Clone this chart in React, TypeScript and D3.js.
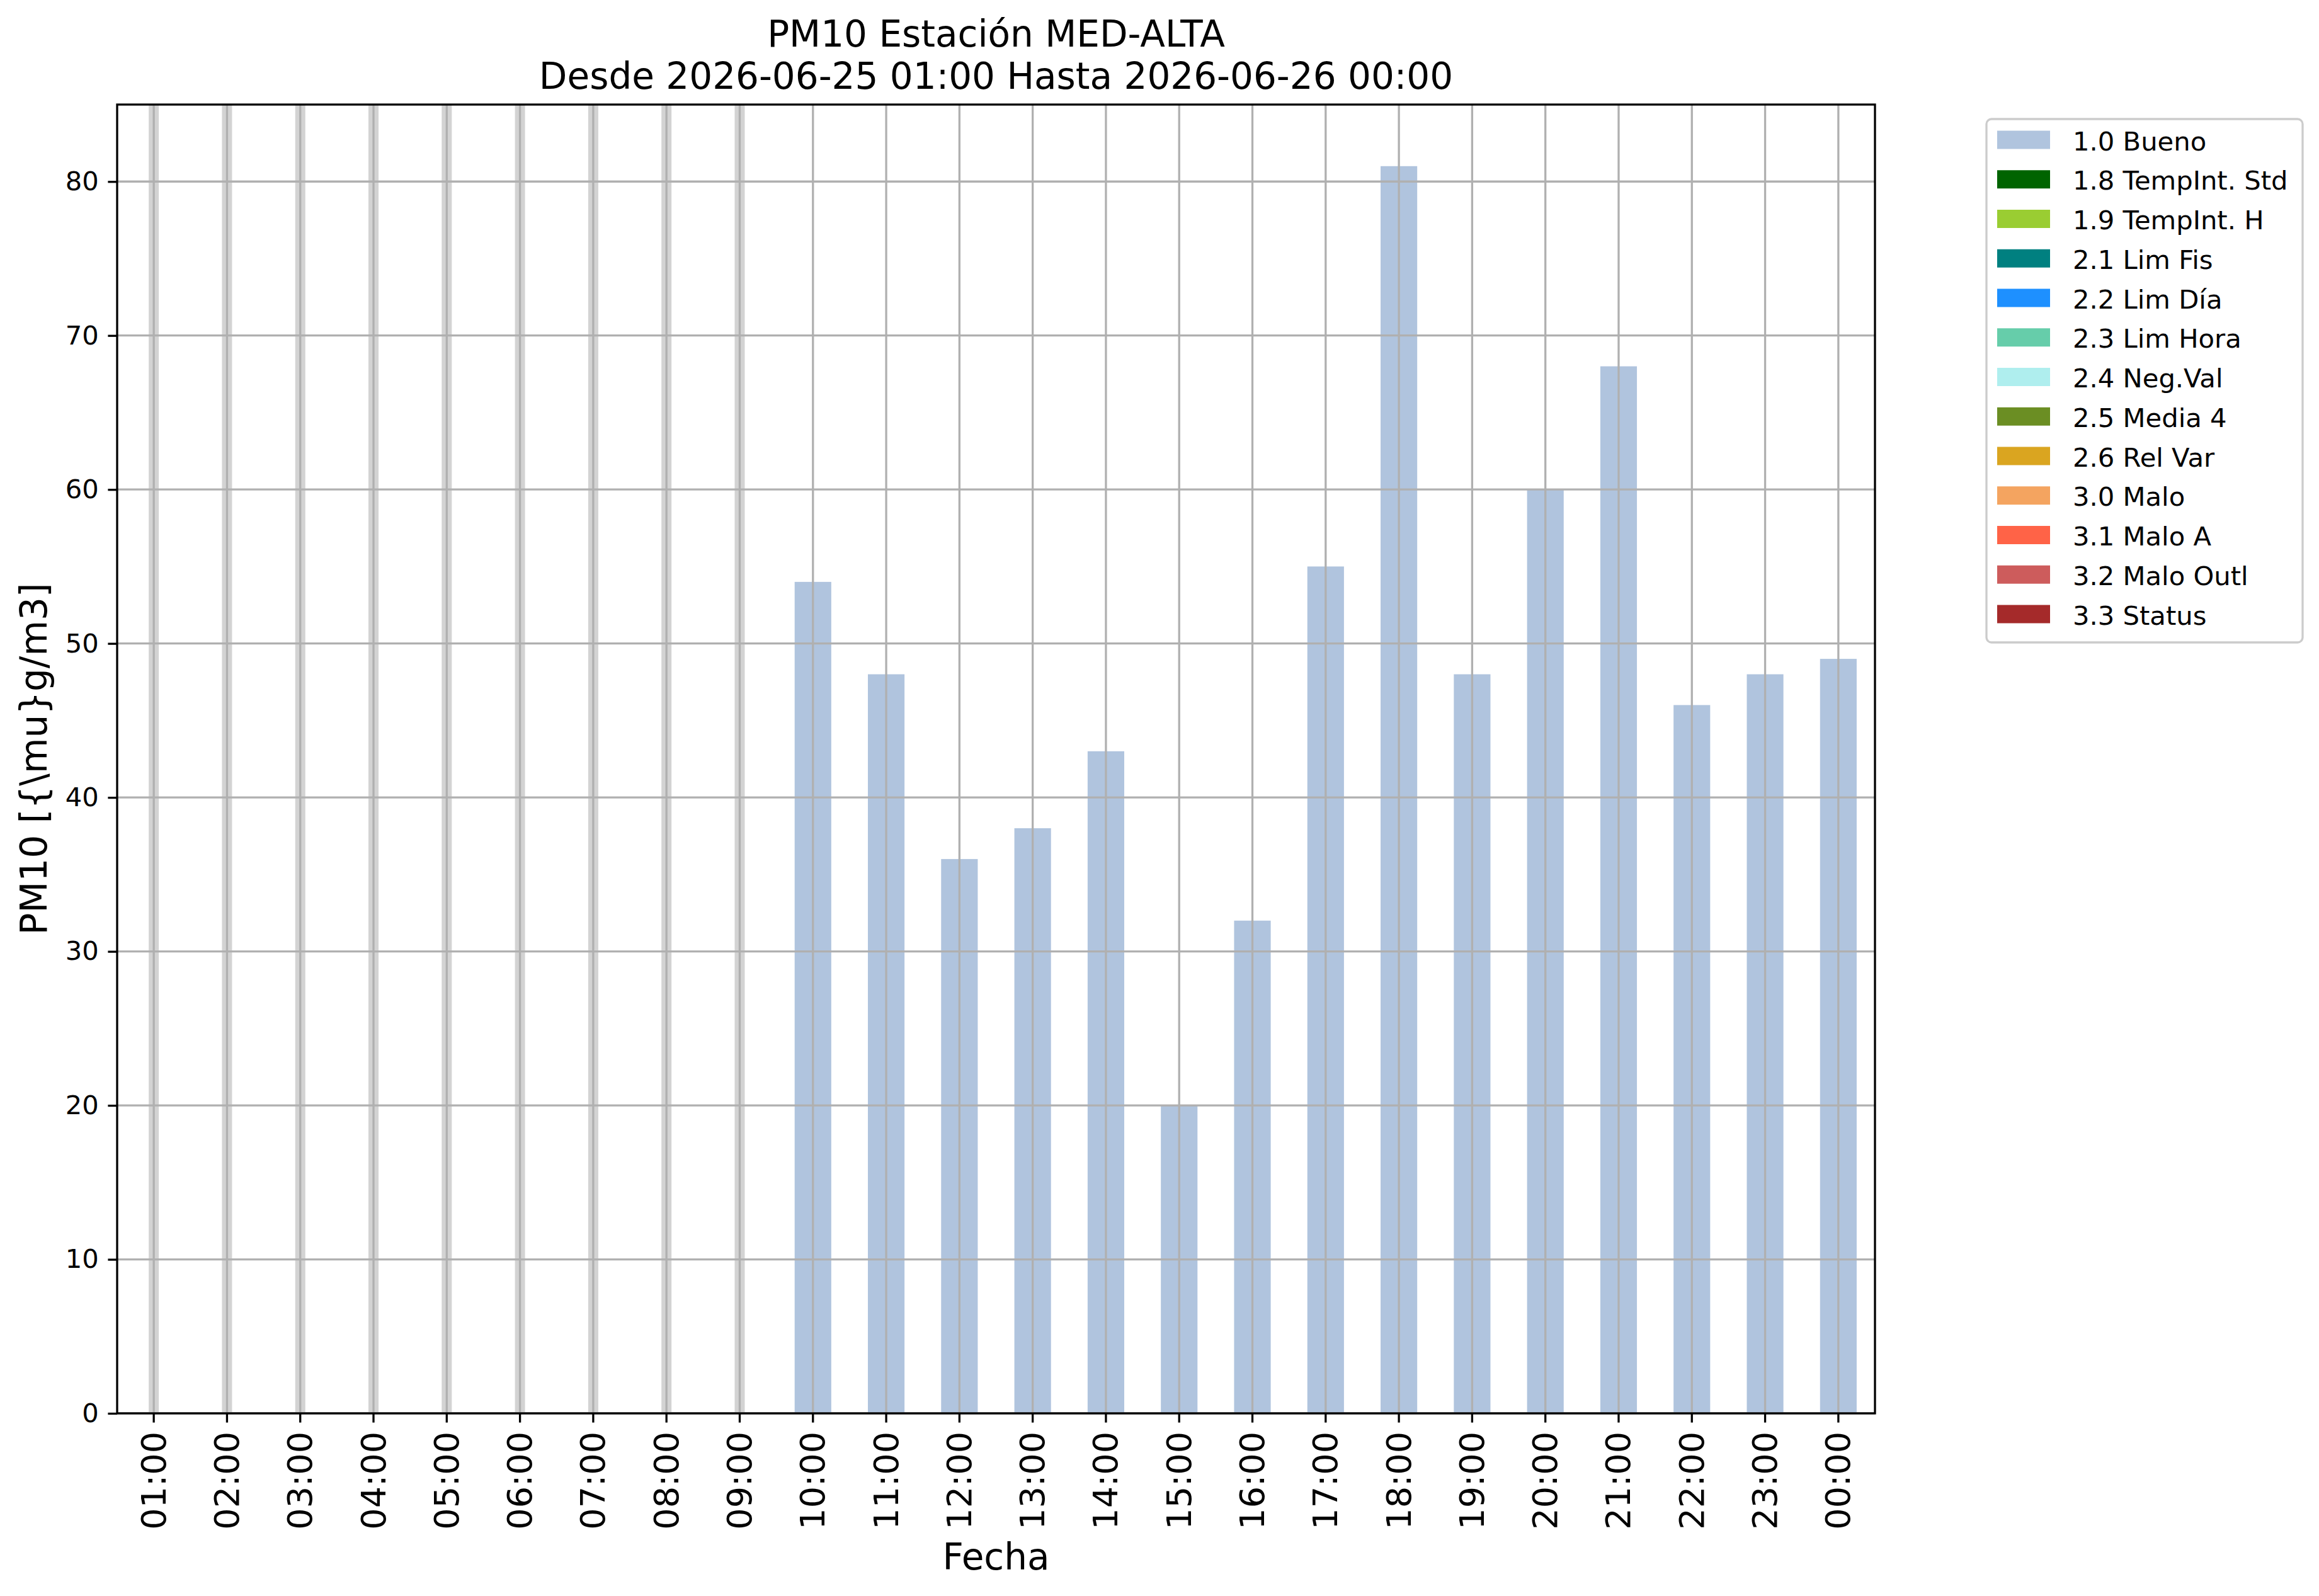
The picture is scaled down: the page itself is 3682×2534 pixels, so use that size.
import React, { useEffect, useRef } from 'react';
import * as d3 from 'd3';

// hourly PM10 readings, null = no data for that hour
const hours = [
  '01:00', '02:00', '03:00', '04:00', '05:00', '06:00', '07:00', '08:00',
  '09:00', '10:00', '11:00', '12:00', '13:00', '14:00', '15:00', '16:00',
  '17:00', '18:00', '19:00', '20:00', '21:00', '22:00', '23:00', '00:00',
];
const pm10 = [
  null, null, null, null, null, null, null, null, null,
  54, 48, 36, 38, 43, 20, 32, 55, 81, 48, 60, 68, 46, 48, 49,
];
const yTicks = [0, 10, 20, 30, 40, 50, 60, 70, 80];

const legendLabels = [
  '1.0 Bueno', '1.8 TempInt. Std', '1.9 TempInt. H', '2.1 Lim Fis', '2.2 Lim Día',
  '2.3 Lim Hora', '2.4 Neg.Val', '2.5 Media 4', '2.6 Rel Var', '3.0 Malo',
  '3.1 Malo A', '3.2 Malo Outl', '3.3 Status',
];
const legendColors = [
  '#b0c4de', '#006400', '#9acd32', '#008080', '#1e90ff', '#66cdaa', '#afeeee',
  '#6b8e23', '#daa520', '#f4a460', '#ff6347', '#cd5c5c', '#a52a2a',
];

const W = 3682;
const H = 2534;
const FONT = 'DejaVu Sans, sans-serif';

export default function App() {
  const ref = useRef<SVGSVGElement>(null);

  useEffect(() => {
    const svg = d3.select(ref.current);
    svg.selectAll('*').remove();

    const left = 186;
    const right = 2977;
    const top = 166;
    const bottom = 2244;
    const lw = 3.3;

    const x = d3
      .scaleBand<string>()
      .domain(hours)
      .range([left, right])
      .paddingInner(0.5)
      .paddingOuter(0.25);
    const y = d3.scaleLinear().domain([0, 85]).range([bottom, top]);
    const cx = (h: string) => (x(h) as number) + x.bandwidth() / 2;

    svg.append('rect').attr('width', W).attr('height', H).attr('fill', 'white');

    const data = hours.map((h, i) => ({ h, v: pm10[i] }));

    // grey bands where no data
    svg
      .selectAll('rect.miss')
      .data(data.filter(d => d.v === null))
      .enter()
      .append('rect')
      .attr('class', 'miss')
      .attr('x', d => cx(d.h) - 8)
      .attr('width', 16)
      .attr('y', top)
      .attr('height', bottom - top)
      .attr('fill', '#d3d3d3');

    svg
      .selectAll('rect.bar')
      .data(data.filter(d => d.v !== null))
      .enter()
      .append('rect')
      .attr('class', 'bar')
      .attr('x', d => x(d.h) as number)
      .attr('width', x.bandwidth())
      .attr('y', d => y(d.v as number))
      .attr('height', d => bottom - y(d.v as number))
      .attr('fill', '#b0c4de');

    // grid on top
    const grid = svg.append('g').attr('stroke', '#b0b0b0').attr('stroke-width', lw);
    hours.forEach(h => {
      grid.append('line').attr('x1', cx(h)).attr('x2', cx(h)).attr('y1', top).attr('y2', bottom);
    });
    yTicks.forEach(t => {
      grid.append('line').attr('x1', left).attr('x2', right).attr('y1', y(t)).attr('y2', y(t));
    });

    // spines
    svg
      .append('rect')
      .attr('x', left)
      .attr('y', top)
      .attr('width', right - left)
      .attr('height', bottom - top)
      .attr('fill', 'none')
      .attr('stroke', 'black')
      .attr('stroke-width', lw);

    // y axis
    const yAxis = d3.axisLeft(y).tickValues(yTicks).tickSize(14.6).tickPadding(14.6);
    const gy = svg.append('g').attr('transform', `translate(${left},0)`).call(yAxis);
    gy.select('.domain').remove();
    gy.selectAll('.tick line').attr('stroke', 'black').attr('stroke-width', lw);
    gy.selectAll('.tick text')
      .attr('font-family', FONT)
      .attr('font-size', 41.7)
      .attr('fill', 'black');

    // x axis
    const xAxis = d3.axisBottom(x).tickSize(14.6).tickPadding(0);
    const gx = svg.append('g').attr('transform', `translate(0,${bottom})`).call(xAxis);
    gx.select('.domain').remove();
    gx.selectAll('.tick line').attr('stroke', 'black').attr('stroke-width', lw);
    gx.selectAll('.tick text')
      .attr('font-family', FONT)
      .attr('font-size', 54)
      .attr('fill', 'black')
      .attr('text-anchor', 'end')
      .attr('dominant-baseline', 'central')
      .attr('dy', null)
      .attr('y', 0)
      .attr('transform', 'translate(0,29) rotate(-90)');

    // labels
    svg
      .append('text')
      .attr('x', (left + right) / 2)
      .attr('y', 2492)
      .attr('text-anchor', 'middle')
      .attr('font-family', FONT)
      .attr('font-size', 58)
      .text('Fecha');
    svg
      .append('text')
      .attr('transform', `translate(74,${(top + bottom) / 2}) rotate(-90)`)
      .attr('text-anchor', 'middle')
      .attr('font-family', FONT)
      .attr('font-size', 58)
      .text('PM10 [{\\mu}g/m3]');

    const title = svg
      .append('text')
      .attr('text-anchor', 'middle')
      .attr('font-family', FONT)
      .attr('font-size', 58);
    title.append('tspan').attr('x', (left + right) / 2).attr('y', 74).text('PM10 Estación MED-ALTA');
    title
      .append('tspan')
      .attr('x', (left + right) / 2)
      .attr('y', 141)
      .text('Desde 2026-06-25 01:00 Hasta 2026-06-26 00:00');

    // legend
    const lg = svg.append('g');
    lg.append('rect')
      .attr('x', 3154)
      .attr('y', 189)
      .attr('width', 502)
      .attr('height', 831)
      .attr('rx', 8)
      .attr('fill', 'white')
      .attr('fill-opacity', 0.8)
      .attr('stroke', '#cccccc')
      .attr('stroke-width', lw);
    const rowY = d3.scaleLinear().domain([0, legendLabels.length - 1]).range([222, 975]);
    legendLabels.forEach((lab, i) => {
      lg.append('rect')
        .attr('x', 3171)
        .attr('y', rowY(i) - 14.5)
        .attr('width', 84)
        .attr('height', 29)
        .attr('fill', legendColors[i]);
      lg.append('text')
        .attr('x', 3291)
        .attr('y', rowY(i) + 2)
        .attr('dominant-baseline', 'central')
        .attr('font-family', FONT)
        .attr('font-size', 41.7)
        .text(lab);
    });
  }, []);

  return (
    <div style={{ position: 'absolute', left: 0, top: 0 }}>
      <svg ref={ref} width={W} height={H} style={{ display: 'block' }} />
    </div>
  );
}
